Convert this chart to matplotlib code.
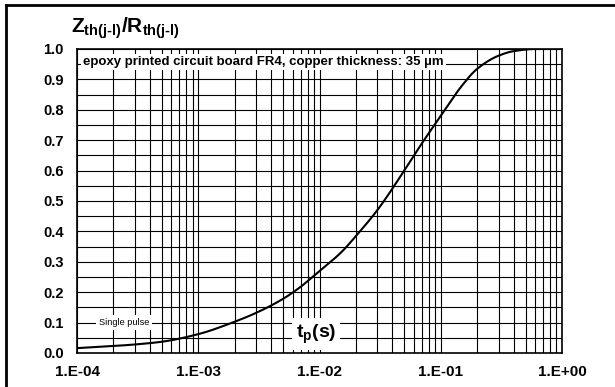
import numpy as np
import matplotlib.pyplot as plt
from matplotlib.lines import Line2D
from matplotlib.ticker import FixedLocator, LogLocator, NullFormatter

plt.rcParams['font.family'] = ['Liberation Sans', 'DejaVu Sans']
plt.rcParams['mathtext.fontset'] = 'custom'
plt.rcParams['mathtext.rm'] = 'Liberation Sans:bold'
plt.rcParams['mathtext.bf'] = 'Liberation Sans:bold'

# transient thermal impedance, single pulse
t_p = [1e-4, 2e-4, 3e-4, 5e-4, 1e-3, 2e-3, 3e-3, 5e-3, 7e-3, 1e-2, 1.5e-2, 2e-2,
       3e-2, 5e-2, 7e-2, 1e-1, 1.5e-1, 2e-1, 3e-1, 4e-1, 6e-1, 1.0]
z_ratio = [0.016, 0.023, 0.028, 0.037, 0.062, 0.103, 0.132, 0.178, 0.218, 0.27, 0.33, 0.385,
           0.47, 0.60, 0.69, 0.78, 0.88, 0.935, 0.978, 0.993, 1.0, 1.0]

y_ticks = [0.0, 0.1, 0.2, 0.3, 0.4, 0.5, 0.6, 0.7, 0.8, 0.9, 1.0]
x_ticks = [1e-4, 1e-3, 1e-2, 1e-1, 1.0]
x_labels = ['1.E-04', '1.E-03', '1.E-02', '1.E-01', '1.E+00']


def pchip(x, y, xn):
    # monotone cubic (Fritsch-Carlson) so the curve has no kinks or overshoot
    x = np.asarray(x, float)
    y = np.asarray(y, float)
    h = np.diff(x)
    d = np.diff(y) / h
    m = np.zeros_like(y)
    for i in range(1, len(x) - 1):
        if d[i - 1] * d[i] > 0:
            w1 = 2 * h[i] + h[i - 1]
            w2 = h[i] + 2 * h[i - 1]
            m[i] = (w1 + w2) / (w1 / d[i - 1] + w2 / d[i])
    m[0], m[-1] = d[0], d[-1]
    k = np.clip(np.searchsorted(x, xn) - 1, 0, len(h) - 1)
    s = (xn - x[k]) / h[k]
    h00 = 2 * s**3 - 3 * s**2 + 1
    h10 = s**3 - 2 * s**2 + s
    h01 = -2 * s**3 + 3 * s**2
    h11 = s**3 - s**2
    return h00 * y[k] + h10 * h[k] * m[k] + h01 * y[k + 1] + h11 * h[k] * m[k + 1]


fig = plt.figure(figsize=(6.15, 3.87), dpi=100)
ax = fig.add_axes([77 / 615, 1 - 353 / 387, 485 / 615, 304 / 387])

lt = np.log10(t_p)
fine = np.linspace(lt[0], lt[-1], 500)
ax.plot(10 ** fine, pchip(lt, z_ratio, fine), color='black', lw=1.5, zorder=4)

ax.set_xscale('log')
ax.set_xlim(1e-4, 1.0)
ax.set_ylim(0, 1.0)

ax.xaxis.set_major_locator(FixedLocator(x_ticks))
ax.xaxis.set_minor_locator(LogLocator(base=10, subs=np.arange(2, 10)))
ax.xaxis.set_minor_formatter(NullFormatter())
ax.set_xticklabels(x_labels)
ax.yaxis.set_major_locator(FixedLocator(y_ticks))
ax.yaxis.set_minor_locator(FixedLocator(np.arange(0.05, 1.0, 0.1)))
ax.set_yticklabels([f'{v:.1f}' for v in y_ticks])

ax.grid(True, which='both', color='black', lw=0.8)
ax.tick_params(which='both', length=0)
ax.tick_params(axis='x', pad=8.5, labelsize=11)
ax.tick_params(axis='y', pad=9.5, labelsize=10.5)
for lab in ax.get_xticklabels() + ax.get_yticklabels():
    lab.set_fontweight('bold')
for s in ax.spines.values():
    s.set_linewidth(1.2)

ax.text(1.12e-4, 0.957, 'epoxy printed circuit board FR4, copper thickness: 35 µm',
        fontsize=9.5, fontweight='bold', va='center', ha='left', zorder=5,
        bbox=dict(facecolor='white', edgecolor='none', pad=1.5))
ax.text(2.44e-4, 0.1, 'Single pulse', fontsize=6.6, va='center', ha='center', zorder=5,
        bbox=dict(facecolor='white', edgecolor='none', pad=2))
ax.text(9.4e-3, 0.062, r'$\mathrm{t_p(s)}$', fontsize=14, va='center', ha='center', zorder=5,
        bbox=dict(facecolor='white', edgecolor='none', pad=3))

fig.text(71 / 615, 1 - 33 / 387, r'$\mathrm{Z_{th(j\text{-}l)}/R_{th(j\text{-}l)}}$',
         fontsize=15, va='baseline', ha='left')

# page frame
fig.add_artist(Line2D([6 / 615, 6 / 615], [0, 1 - 5 / 387], color='black', lw=2))
fig.add_artist(Line2D([6 / 615, 1], [1 - 5 / 387, 1 - 5 / 387], color='black', lw=2))

fig.savefig('out.png', dpi=100)
